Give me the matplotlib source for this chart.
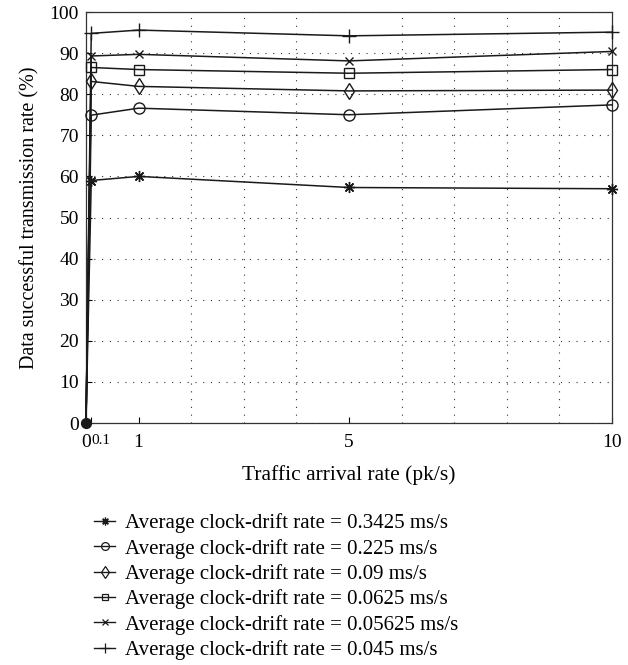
import matplotlib
matplotlib.use("Agg")
import matplotlib.pyplot as plt
from matplotlib.lines import Line2D

plt.rcParams['font.family'] = ['Liberation Serif', 'DejaVu Serif']

x = [0, 0.1, 1, 5, 10]
labels = [
    "Average clock-drift rate = 0.3425 ms/s",
    "Average clock-drift rate = 0.225 ms/s",
    "Average clock-drift rate = 0.09 ms/s",
    "Average clock-drift rate = 0.0625 ms/s",
    "Average clock-drift rate = 0.05625 ms/s",
    "Average clock-drift rate = 0.045 ms/s",
]
s_03425 = [0, 59.0, 60.0, 57.3, 57.0]
s_0225 = [0, 74.9, 76.6, 75.0, 77.4]
s_009 = [0, 83.1, 81.9, 80.8, 81.0]
s_00625 = [0, 86.5, 86.0, 85.1, 86.0]
s_005625 = [0, 89.3, 89.7, 88.1, 90.4]
s_0045 = [0, 94.8, 95.6, 94.2, 95.1]
series = [s_03425, s_0225, s_009, s_00625, s_005625, s_0045]
markers = [(8, 2, 0), 'o', 'd', 's', 'x', '+']
msizes = [8, 8, 8.5, 6.5, 6, 10]

xticks = [0, 0.1, 1, 5, 10]
xticklabels = ["0", "0.1", "1", "5", "10"]
yticks = list(range(0, 101, 10))

fig = plt.figure(figsize=(6.28, 6.65), dpi=100)
ax = fig.add_axes([86/628, 1-423/665, (612-86)/628, (423-12)/665])

handles = []
for ys, m, ms, lab in zip(series, markers, msizes, labels):
    ax.plot(x, ys, color='#1a1a1a', lw=1.1, marker=m, ms=ms,
            mfc='none', mec='#1a1a1a', mew=1.0, markevery=slice(1, None),
            clip_on=False, zorder=3)
    handles.append(Line2D([], [], color='#1a1a1a', lw=1.0, marker=m,
                          ms=ms*0.7, mfc='none', mec='#1a1a1a', mew=0.9, label=lab))
ax.scatter([x[0]], [series[0][0]], s=50, color='#1a1a1a', zorder=4, clip_on=False)

ax.set_xlim(0, 10)
ax.set_ylim(0, 100)
ax.set_xticks(xticks)
ax.set_xticklabels(xticklabels)
ax.set_yticks(yticks)
ax.set_xticks(range(1, 10), minor=True)
ax.tick_params(which='both', direction='in', labelsize=14, length=4,
               top=False, right=False, pad=5)
ax.tick_params(axis='x', which='major', pad=8)
ax.tick_params(which='minor', length=0)
for t in ax.get_xticklabels():
    if t.get_text() == "0.1":
        t.set_fontsize(11)
        t.set_horizontalalignment('left')
        t.set_verticalalignment('top')
ax.grid(True, which='minor', axis='x', linestyle=(0, (1, 6)), color='#333333', lw=0.8)
ax.grid(True, which='major', axis='y', linestyle=(0, (1, 6)), color='#333333', lw=0.8)
for sp in ax.spines.values():
    sp.set_linewidth(0.9)
    sp.set_color('#333333')

ax.set_xlabel("Traffic arrival rate (pk/s)", fontsize=15.5, labelpad=10)
ax.set_ylabel("Data successful transmission rate (%)", fontsize=14.5, labelpad=7)

fig.legend(handles=handles, loc='upper left', bbox_to_anchor=(86/628, 1-505/665),
           frameon=False, fontsize=15, handlelength=1.0, handletextpad=0.45,
           labelspacing=0.26, borderaxespad=0)

fig.savefig("out.png", dpi=100)
